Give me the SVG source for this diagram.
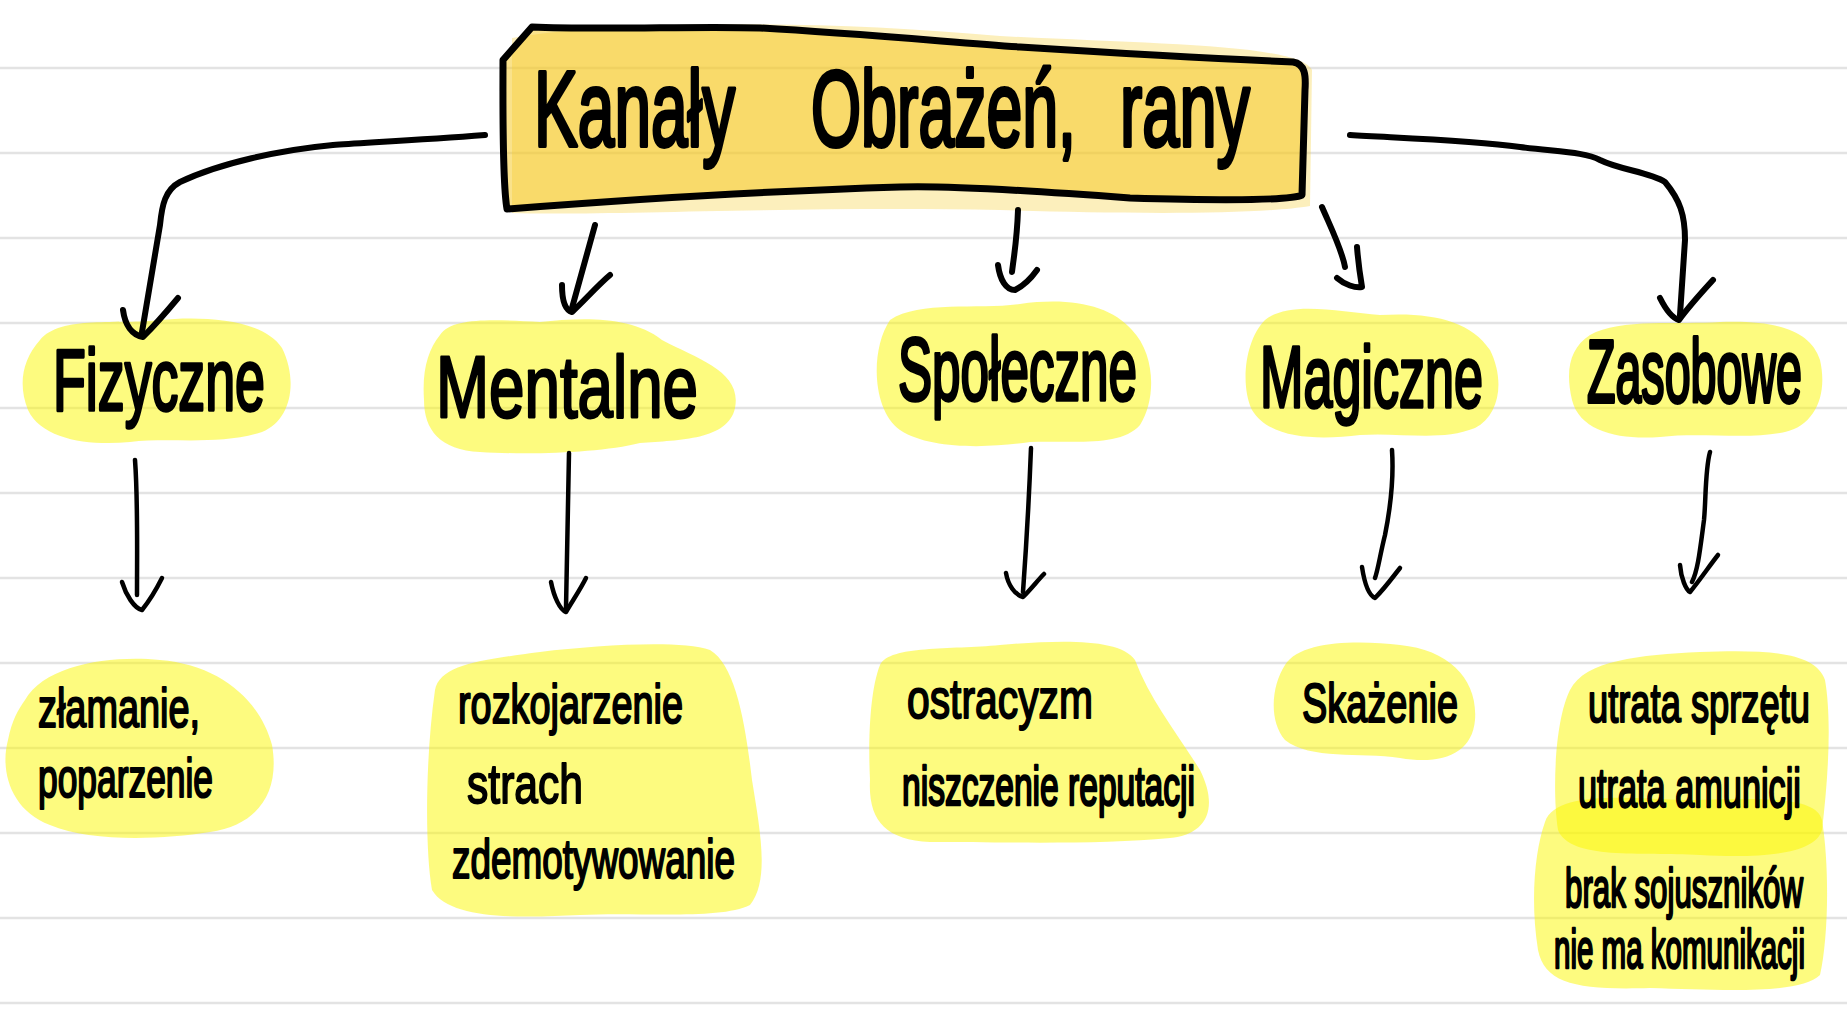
<svg xmlns="http://www.w3.org/2000/svg" width="1847" height="1020" viewBox="0 0 1847 1020">
<style>
.bg{fill:#ffffff}
.ln{stroke:#e3e3e3;stroke-width:2.5}
.hl{fill:#fbf700;fill-opacity:0.5}
.boxfill{fill:#f5c518;fill-opacity:0.5}
.glow{fill:#f7d040;fill-opacity:0.35}
.boxline{fill:none;stroke:#000;stroke-width:7;stroke-linejoin:round;stroke-linecap:round}
.c{fill:none;stroke:#000;stroke-linecap:round;stroke-linejoin:round}
.thick{stroke-width:6}
.thin{stroke-width:4.5}
.t{font-family:"Liberation Sans","DejaVu Sans",sans-serif;fill:#000;stroke:#000;stroke-linejoin:round;font-weight:normal}
.title{stroke-width:2.5}
.cat{stroke-width:2}
.leaf{stroke-width:1.4}
</style>
<rect class="bg" x="0" y="0" width="1847" height="1020"/>
<g id="ruled-lines">
<line class="ln" x1="0" y1="68" x2="1847" y2="68"/>
<line class="ln" x1="0" y1="153" x2="1847" y2="153"/>
<line class="ln" x1="0" y1="238" x2="1847" y2="238"/>
<line class="ln" x1="0" y1="323" x2="1847" y2="323"/>
<line class="ln" x1="0" y1="408" x2="1847" y2="408"/>
<line class="ln" x1="0" y1="493" x2="1847" y2="493"/>
<line class="ln" x1="0" y1="578" x2="1847" y2="578"/>
<line class="ln" x1="0" y1="663" x2="1847" y2="663"/>
<line class="ln" x1="0" y1="748" x2="1847" y2="748"/>
<line class="ln" x1="0" y1="833" x2="1847" y2="833"/>
<line class="ln" x1="0" y1="918" x2="1847" y2="918"/>
<line class="ln" x1="0" y1="1003" x2="1847" y2="1003"/>
</g>
<g id="node-title">
<path class="glow" d="M 512 38 C 600 22, 800 18, 1000 36 C 1150 44, 1300 44, 1312 70 L 1310 206 C 1250 216, 1100 213, 1000 210 C 800 206, 600 216, 512 213 Z"/>
<path class="boxfill" d="M 503 60 L 532 27 C 600 30, 700 26, 760 28 C 850 33, 950 42, 1020 47 C 1100 52, 1200 58, 1293 62 C 1305 64, 1306 75, 1305 90 L 1302 195 C 1290 201, 1200 200, 1130 198 C 1050 192, 950 185, 900 187 C 800 190, 650 198, 507 209 C 502 180, 503 100, 503 60 Z"/>
<path class="boxline" d="M 503 60 L 532 27 C 600 30, 700 26, 760 28 C 850 33, 950 42, 1020 47 C 1100 52, 1200 58, 1293 62 C 1305 64, 1306 75, 1305 90 L 1302 195 C 1290 201, 1200 200, 1130 198 C 1050 192, 950 185, 900 187 C 800 190, 650 198, 507 209 C 502 180, 503 100, 503 60 Z"/>
<text class="t title" font-size="66" transform="matrix(1 0 0 1.64 0 -93.44)" y="146"><tspan x="534" textLength="201" lengthAdjust="spacingAndGlyphs">Kanały</tspan> <tspan x="811" textLength="265" lengthAdjust="spacingAndGlyphs">Obrażeń,</tspan> <tspan x="1120" textLength="130" lengthAdjust="spacingAndGlyphs">rany</tspan></text>
</g>
<g id="node-fizyczne">
<path class="hl" d="M 40 340 C 60 315, 120 325, 160 320 C 200 316, 262 318, 282 348 C 298 380, 292 420, 262 432 C 220 446, 170 437, 130 442 C 90 446, 42 440, 28 410 C 18 385, 22 360, 40 340 Z"/>
<text class="t cat" font-size="53.7" transform="matrix(1 0 0 1.64 0 -262.4)" x="53" y="410" textLength="212" lengthAdjust="spacingAndGlyphs">Fizyczne</text>
</g>
<g id="node-mentalne">
<path class="hl" d="M 440 335 C 452 316, 500 320, 540 322 C 580 318, 630 315, 662 340 C 700 360, 742 372, 735 408 C 728 440, 680 440, 640 443 C 600 453, 530 455, 480 452 C 440 450, 424 430, 424 400 C 422 370, 428 350, 440 335 Z"/>
<text class="t cat" font-size="63.7" transform="matrix(1 0 0 1.38 0 -158.46)" x="436" y="417" textLength="262" lengthAdjust="spacingAndGlyphs">Mentalne</text>
</g>
<g id="node-spoleczne">
<path class="hl" d="M 890 320 C 920 300, 980 310, 1020 304 C 1070 297, 1110 305, 1132 330 C 1156 355, 1156 400, 1140 425 C 1120 448, 1070 440, 1030 442 C 990 448, 930 450, 900 430 C 872 410, 870 350, 890 320 Z"/>
<text class="t cat" font-size="51.2" transform="matrix(1 0 0 1.72 0 -288)" x="898" y="400" textLength="239" lengthAdjust="spacingAndGlyphs">Społeczne</text>
</g>
<g id="node-magiczne">
<path class="hl" d="M 1265 320 C 1290 300, 1340 312, 1380 315 C 1430 312, 1470 320, 1490 350 C 1505 380, 1500 415, 1475 428 C 1440 442, 1400 432, 1360 435 C 1320 440, 1270 440, 1252 410 C 1240 385, 1245 340, 1265 320 Z"/>
<text class="t cat" font-size="52.1" transform="matrix(1 0 0 1.69 0 -280.83)" x="1260" y="407" textLength="223" lengthAdjust="spacingAndGlyphs">Magiczne</text>
</g>
<g id="node-zasobowe">
<path class="hl" d="M 1590 335 C 1620 318, 1680 325, 1720 322 C 1770 320, 1810 328, 1820 360 C 1828 395, 1815 425, 1785 432 C 1750 440, 1700 432, 1660 437 C 1620 440, 1580 432, 1572 400 C 1565 370, 1570 348, 1590 335 Z"/>
<text class="t cat" font-size="46.6" transform="matrix(1 0 0 1.89 0 -357.78)" x="1587" y="402" textLength="215" lengthAdjust="spacingAndGlyphs">Zasobowe</text>
</g>
<g id="node-fizyczne-skutki">
<path class="hl" d="M 25 700 C 45 665, 110 655, 160 660 C 220 665, 260 700, 272 745 C 280 790, 260 825, 210 832 C 160 840, 90 842, 50 825 C 10 810, 0 770, 8 740 C 12 720, 18 710, 25 700 Z"/>
<text class="t leaf" font-size="37.9" transform="matrix(1 0 0 1.48 0 -348.96)" x="38" y="727" textLength="162" lengthAdjust="spacingAndGlyphs">złamanie,</text>
<text class="t leaf" font-size="35.4" transform="matrix(1 0 0 1.58 0 -462.26)" x="38" y="797" textLength="175" lengthAdjust="spacingAndGlyphs">poparzenie</text>
</g>
<g id="node-mentalne-skutki">
<path class="hl" d="M 435 690 C 440 665, 480 660, 540 652 C 600 645, 680 640, 710 650 C 735 665, 745 720, 752 780 C 760 830, 770 880, 750 905 C 720 920, 640 912, 580 915 C 520 918, 450 920, 432 890 C 425 850, 425 760, 435 690 Z"/>
<text class="t leaf" font-size="37.8" transform="matrix(1 0 0 1.48 0 -347.04)" x="458" y="723" textLength="225" lengthAdjust="spacingAndGlyphs">rozkojarzenie</text>
<text class="t leaf" font-size="42.6" transform="matrix(1 0 0 1.31 0 -248.93)" x="467" y="803" textLength="116" lengthAdjust="spacingAndGlyphs">strach</text>
<text class="t leaf" font-size="36.9" transform="matrix(1 0 0 1.52 0 -456.56)" x="452" y="878" textLength="283" lengthAdjust="spacingAndGlyphs">zdemotywowanie</text>
</g>
<g id="node-spoleczne-skutki">
<path class="hl" d="M 880 665 C 890 645, 950 650, 1000 645 C 1060 640, 1120 638, 1135 660 C 1150 700, 1175 730, 1200 770 C 1220 810, 1205 835, 1170 838 C 1100 845, 1000 842, 930 842 C 885 840, 868 820, 870 780 C 868 740, 870 690, 880 665 Z"/>
<text class="t leaf" font-size="40.8" transform="matrix(1 0 0 1.37 0 -265.66)" x="907" y="718" textLength="186" lengthAdjust="spacingAndGlyphs">ostracyzm</text>
<text class="t leaf" font-size="30.1" transform="matrix(1 0 0 1.86 0 -692.3)" x="902" y="805" textLength="293" lengthAdjust="spacingAndGlyphs">niszczenie reputacji</text>
</g>
<g id="node-magiczne-skutki">
<path class="hl" d="M 1285 665 C 1300 640, 1360 640, 1400 645 C 1450 650, 1478 680, 1475 720 C 1472 755, 1440 765, 1400 758 C 1360 752, 1310 760, 1285 740 C 1268 720, 1272 685, 1285 665 Z"/>
<text class="t leaf" font-size="37.9" transform="matrix(1 0 0 1.48 0 -346.56)" x="1302" y="722" textLength="156" lengthAdjust="spacingAndGlyphs">Skażenie</text>
</g>
<g id="node-zasobowe-skutki">
<path class="hl" d="M 1570 690 C 1585 660, 1640 655, 1700 652 C 1760 650, 1815 650, 1825 680 C 1832 720, 1828 780, 1822 830 C 1815 855, 1760 858, 1700 855 C 1640 852, 1570 860, 1558 830 C 1552 790, 1555 720, 1570 690 Z"/>
<path class="hl" d="M 1545 822 C 1555 792, 1620 797, 1680 800 C 1740 800, 1815 792, 1822 820 C 1830 870, 1828 940, 1820 975 C 1800 995, 1720 990, 1650 988 C 1580 990, 1545 985, 1538 950 C 1530 900, 1535 850, 1545 822 Z"/>
<text class="t leaf" font-size="36.3" transform="matrix(1 0 0 1.54 0 -389.88)" x="1588" y="722" textLength="222" lengthAdjust="spacingAndGlyphs">utrata sprzętu</text>
<text class="t leaf" font-size="34.3" transform="matrix(1 0 0 1.63 0 -508.41)" x="1578" y="807" textLength="223" lengthAdjust="spacingAndGlyphs">utrata amunicji</text>
<text class="t leaf" font-size="31.3" transform="matrix(1 0 0 1.79 0 -716.53)" x="1565" y="907" textLength="238" lengthAdjust="spacingAndGlyphs">brak sojuszników</text>
<text class="t leaf" font-size="29.5" transform="matrix(1 0 0 1.9 0 -871.2)" x="1554" y="968" textLength="251" lengthAdjust="spacingAndGlyphs">nie ma komunikacji</text>
</g>
<g id="connectors">
<path class="c thick" d="M 485 135 C 420 140, 360 143, 333 145 C 280 150, 220 163, 180 182 C 165 190, 162 205, 160 225 L 142 332"/>
<path class="c thick" d="M 123 310 C 125 325, 132 335, 143 337 C 155 325, 168 310, 178 298"/>
<path class="c thick" d="M 595 225 L 572 308"/>
<path class="c thick" d="M 562 285 C 562 300, 565 310, 572 312 C 585 300, 598 285, 610 275"/>
<path class="c thick" d="M 1018 210 C 1017 240, 1014 255, 1012 272"/>
<path class="c thick" d="M 998 265 C 1000 280, 1006 290, 1015 290 C 1025 285, 1032 277, 1037 270"/>
<path class="c thick" d="M 1322 207 C 1332 230, 1342 250, 1345 267"/>
<path class="c thick" d="M 1337 278 C 1345 285, 1355 288, 1362 287 C 1360 275, 1358 260, 1357 247"/>
<path class="c thick" d="M 1350 135 C 1400 138, 1470 140, 1520 147 C 1560 152, 1585 152, 1600 160 C 1620 170, 1650 172, 1665 182 C 1680 200, 1685 215, 1685 240 L 1680 315"/>
<path class="c thick" d="M 1660 298 C 1665 308, 1672 318, 1679 320 C 1690 305, 1702 292, 1713 280"/>
<path class="c thin" d="M 135 460 C 138 500, 137 550, 137 595"/>
<path class="c thin" d="M 122 582 C 126 595, 134 608, 142 610 C 150 600, 156 590, 162 578"/>
<path class="c thin" d="M 569 453 C 568 510, 567 560, 566 608"/>
<path class="c thin" d="M 551 582 C 554 597, 560 610, 566 612 C 573 600, 580 590, 586 578"/>
<path class="c thin" d="M 1031 448 C 1029 500, 1026 550, 1023 592"/>
<path class="c thin" d="M 1006 573 C 1008 585, 1015 595, 1023 597 C 1032 588, 1038 580, 1044 574"/>
<path class="c thin" d="M 1392 450 C 1394 480, 1390 510, 1385 535 C 1380 555, 1378 570, 1375 578"/>
<path class="c thin" d="M 1362 567 C 1364 580, 1368 595, 1375 598 C 1385 588, 1392 578, 1400 568"/>
<path class="c thin" d="M 1710 452 C 1705 470, 1706 500, 1704 520 C 1700 550, 1698 570, 1692 582"/>
<path class="c thin" d="M 1680 565 C 1681 578, 1686 590, 1690 592 C 1700 580, 1710 565, 1718 555"/>
</g>
</svg>
